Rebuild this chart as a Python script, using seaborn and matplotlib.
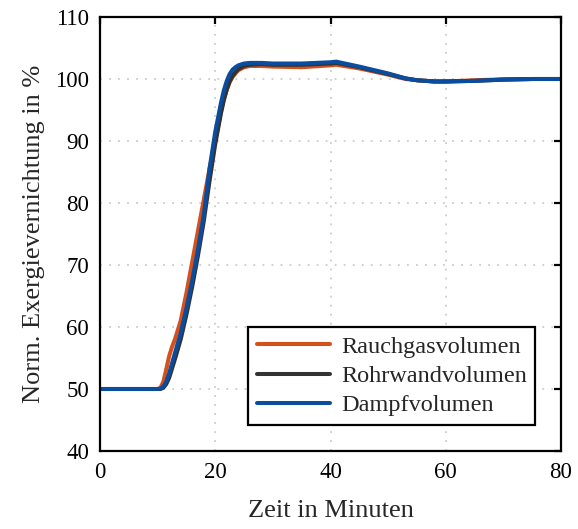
import numpy as np
import pandas as pd
import matplotlib
matplotlib.use("Agg")
import matplotlib.pyplot as plt
import seaborn as sns

# Zeitachse und normierte Exergievernichtung je Bilanzvolumen
zeit_rauchgas = [0, 10, 10.5, 11, 11.5, 12, 12.5, 13, 14, 15, 16, 17, 18, 19, 20, 21, 21.5,
                 22, 22.5, 23, 23.5, 24, 25, 26, 28, 30, 35, 40, 41, 45, 50, 53, 55, 58,
                 60, 65, 70, 75, 80]
rauchgas = [50, 50, 50.2, 51.2, 53.2, 55.3, 56.8, 58, 61, 65.5, 70.5, 75.5, 80.5, 85.5,
            90, 94.8, 96.8, 98.3, 99.5, 100.3, 100.9, 101.4, 101.9, 102.1, 102.1, 102.0,
            101.9, 102.2, 102.3, 101.7, 100.7, 100.0, 99.8, 99.6, 99.6, 99.8, 99.95,
            100.0, 100.0]

zeit_rohrwand = [0, 10, 10.5, 11, 11.5, 12, 13, 14, 15, 16, 17, 18, 19, 20, 21, 21.5, 22,
                 22.5, 23, 23.5, 24, 25, 26, 28, 30, 35, 40, 41, 45, 50, 53, 55, 58, 60,
                 65, 70, 75, 80]
rohrwand = [50, 50, 50.0, 50.2, 50.8, 51.8, 54.8, 58, 62, 66.5, 71.5, 77, 83.5, 89.5,
            94.5, 96.6, 98.3, 99.6, 100.5, 101.1, 101.6, 102.1, 102.3, 102.4, 102.3,
            102.3, 102.5, 102.6, 101.9, 100.8, 100.1, 99.8, 99.6, 99.6, 99.7, 99.9,
            100.0, 100.0]

zeit_dampf = [0, 10, 10.5, 11, 11.5, 12, 13, 14, 15, 16, 17, 18, 19, 20, 21, 21.5, 22,
              22.5, 23, 23.5, 24, 25, 26, 28, 30, 35, 40, 41, 45, 50, 53, 55, 58, 60,
              65, 70, 75, 80]
dampf = [50, 50, 50.05, 50.4, 51.2, 52.5, 55.8, 59, 63, 67.5, 72.5, 78, 85.5, 91.5,
         96.2, 98.2, 99.7, 100.8, 101.5, 101.9, 102.2, 102.5, 102.6, 102.6, 102.5,
         102.5, 102.7, 102.8, 102.0, 100.9, 100.1, 99.8, 99.6, 99.6, 99.7, 99.9,
         100.0, 100.0]

x_ticks = [0, 20, 40, 60, 80]
y_ticks = [40, 50, 60, 70, 80, 90, 100, 110]

reihen = [
    ("Rauchgasvolumen", zeit_rauchgas, rauchgas, "#D6501C"),
    ("Rohrwandvolumen", zeit_rohrwand, rohrwand, "#333333"),
    ("Dampfvolumen", zeit_dampf, dampf, "#0A4C9E"),
]

sns.set_style("white")
plt.rcParams["font.family"] = ["Liberation Serif", "DejaVu Serif"]

fig, ax = plt.subplots(figsize=(5.78, 5.29), dpi=100)
fig.subplots_adjust(left=100 / 578, right=561 / 578, top=1 - 17 / 529, bottom=1 - 451 / 529)

for name, t, v, farbe in reihen:
    df = pd.DataFrame({"Zeit": t, "Wert": v})
    sns.lineplot(data=df, x="Zeit", y="Wert", ax=ax, color=farbe, linewidth=2.9,
                 label=name, sort=False, estimator=None)

ax.set_xlim(0, 80)
ax.set_ylim(40, 110)
ax.set_xticks(x_ticks)
ax.set_yticks(y_ticks)
ax.set_xticklabels([str(v) for v in x_ticks])
ax.set_yticklabels([str(v) for v in y_ticks])
ax.tick_params(direction="in", length=5, width=1.6, top=True, right=True,
               labelsize=16.5, pad=8, colors="black")
ax.grid(True, color="#cccccc", linestyle=(0, (1, 4)), linewidth=1.3)
for s in ax.spines.values():
    s.set_color("black")
    s.set_linewidth(1.6)

ax.set_xlabel("Zeit in Minuten", fontsize=19, labelpad=12)
ax.set_ylabel("Norm. Exergievernichtung in %", fontsize=19, labelpad=7)

leg = ax.legend(loc="lower right", bbox_to_anchor=(0.944, 0.06), fontsize=17.5,
                frameon=True, fancybox=False, handlelength=3.0, borderpad=0.35,
                labelspacing=0.3, handletextpad=0.45, borderaxespad=0)
leg.get_frame().set_edgecolor("black")
leg.get_frame().set_linewidth(1.6)
leg.get_frame().set_alpha(1)

fig.savefig("out.png", dpi=100)
